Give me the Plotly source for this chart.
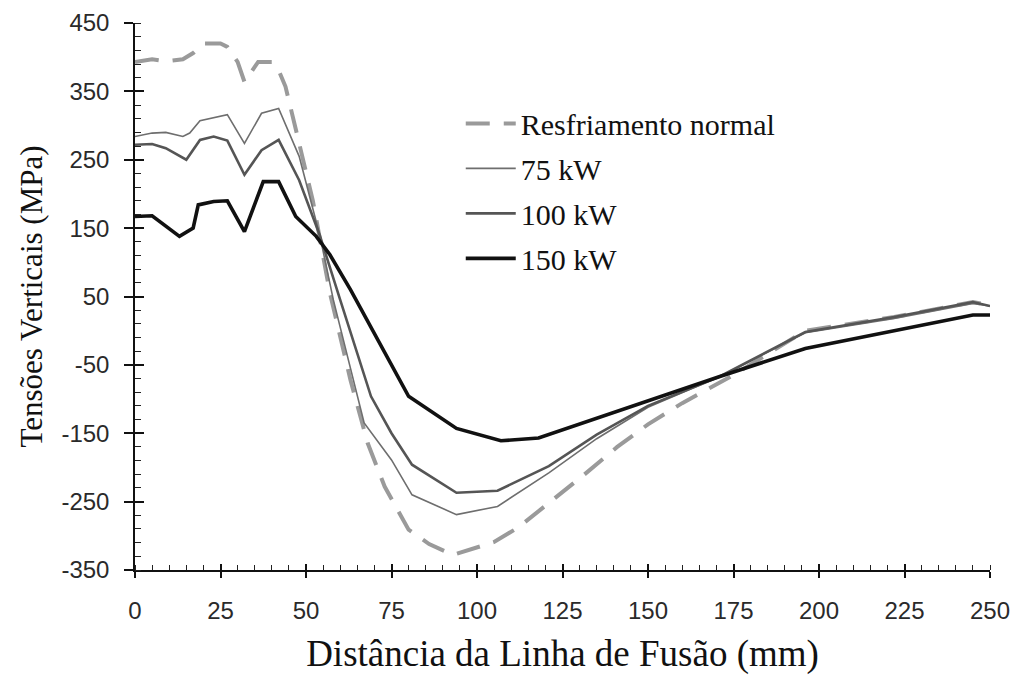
import plotly.graph_objects as go

# ---- data ----
x_normal = [0, 5, 9, 14, 17, 20, 25, 27, 30, 32, 36, 40, 42, 44, 47, 52, 57, 63, 68, 73, 80, 86, 93, 98, 105, 112, 121, 131, 141, 150, 160, 175, 196, 222, 245, 250]
y_normal = [393, 397, 394, 397, 406, 420, 420, 415, 393, 364, 393, 393, 381, 357, 295, 190, 55, -72, -164, -228, -291, -312, -328, -320, -309, -288, -252, -212, -170, -137, -106, -65, 0, 20, 42, 37]

x_75 = [0, 5, 9, 14, 16, 19, 27, 32, 37, 42, 48, 54, 58, 67, 75, 81, 94, 106, 121, 135, 150, 171, 196, 222, 245, 250]
y_75 = [284, 289, 290, 284, 289, 307, 316, 274, 318, 325, 255, 140, 45, -135, -189, -240, -269, -257, -208, -158, -112, -67, -3, 18, 40, 36]

x_100 = [0, 5, 9, 15, 19, 23, 27, 32, 37, 42, 48, 54, 60, 69, 75, 81, 94, 106, 121, 135, 150, 171, 196, 222, 245, 250]
y_100 = [272, 273, 267, 250, 279, 284, 278, 228, 264, 279, 220, 140, 45, -96, -150, -196, -237, -234, -198, -152, -110, -67, -2, 20, 42, 36]

x_150 = [0, 5, 13, 17, 18.5, 23, 27, 32, 37.5, 42, 47, 53, 57, 63, 80, 94, 107, 118, 171, 196, 245, 250]
y_150 = [167, 168, 138, 150, 184, 189, 190, 145, 218, 218, 167, 138, 111, 60, -96, -143, -161, -157, -67, -26, 23, 23]

names = ["Resfriamento normal", "75 kW", "100 kW", "150 kW"]

y_ticks = [450, 350, 250, 150, 50, -50, -150, -250, -350]
y_ticktext = ["450", "350", "250", "150", "50", "-50", "-150", "-250", "-350"]

fig = go.Figure()

series = [
    (x_normal, y_normal, dict(color="#9a9a9a", width=4, dash="24px,14px")),
    (x_75, y_75, dict(color="#6e6e6e", width=1.6)),
    (x_100, y_100, dict(color="#555555", width=2.6)),
    (x_150, y_150, dict(color="#111111", width=3.6)),
]
for i, (xs, ys, ln) in enumerate(series):
    fig.add_trace(go.Scatter(x=xs, y=ys, mode="lines", name=names[i], line=ln,
                             legendgroup=f"g{i}"))

# overlay axes to give the major ticks a crossing look (inside part)
fig.add_trace(go.Scatter(x=[None], y=[None], xaxis="x2", yaxis="y2", showlegend=False, hoverinfo="skip"))

tick_font = dict(family="Liberation Sans, Arial, sans-serif", size=24, color="#2a2a2a")
serif = "Liberation Serif, Times New Roman, serif"

fig.update_layout(
    width=1018, height=677,
    margin=dict(l=135, r=28, t=23, b=107, autoexpand=False),
    paper_bgcolor="white", plot_bgcolor="white",
    showlegend=True,
    legend=dict(x=0.381, y=0.864, xanchor="left", yanchor="top",
                font=dict(family=serif, size=30, color="#111111"),
                bgcolor="rgba(0,0,0,0)", tracegroupgap=3, itemwidth=50),
    xaxis=dict(range=[0, 250], tick0=0, dtick=25, automargin=False,
               showgrid=False, zeroline=False, showline=True, linecolor="#111", linewidth=1.5,
               ticks="outside", ticklen=6, tickwidth=1.5, tickcolor="#111",
               minor=dict(tickmode="linear", tick0=0, dtick=5, ticks="inside", ticklen=5, tickwidth=1.2, tickcolor="#222", showgrid=False),
               tickfont=tick_font, ticklabelstandoff=12,
               title=dict(text="Distância da Linha de Fusão (mm)", font=dict(family=serif, size=37, color="#111"), standoff=18)),
    yaxis=dict(range=[-350, 450], tickmode="array", tickvals=y_ticks, ticktext=y_ticktext, automargin=False,
               showgrid=False, zeroline=False, showline=True, linecolor="#111", linewidth=1.5,
               ticks="outside", ticklen=9, tickwidth=1.5, tickcolor="#111",
               minor=dict(tickmode="linear", tick0=50, dtick=20, ticks="inside", ticklen=6, tickwidth=1.2, tickcolor="#222", showgrid=False),
               tickfont=tick_font, ticklabelstandoff=10,
               title=dict(text="Tensões Verticais (MPa)", font=dict(family=serif, size=31, color="#111"), standoff=10)),
    xaxis2=dict(range=[0, 250], overlaying="x", tick0=0, dtick=25, showticklabels=False, automargin=False,
                ticks="inside", ticklen=6, tickwidth=1.5, tickcolor="#111",
                showgrid=False, zeroline=False, showline=False),
    yaxis2=dict(range=[-350, 450], overlaying="y", tick0=50, dtick=100, showticklabels=False, automargin=False,
                ticks="inside", ticklen=9, tickwidth=1.5, tickcolor="#111",
                showgrid=False, zeroline=False, showline=False),
)

fig.write_html("out.html")
